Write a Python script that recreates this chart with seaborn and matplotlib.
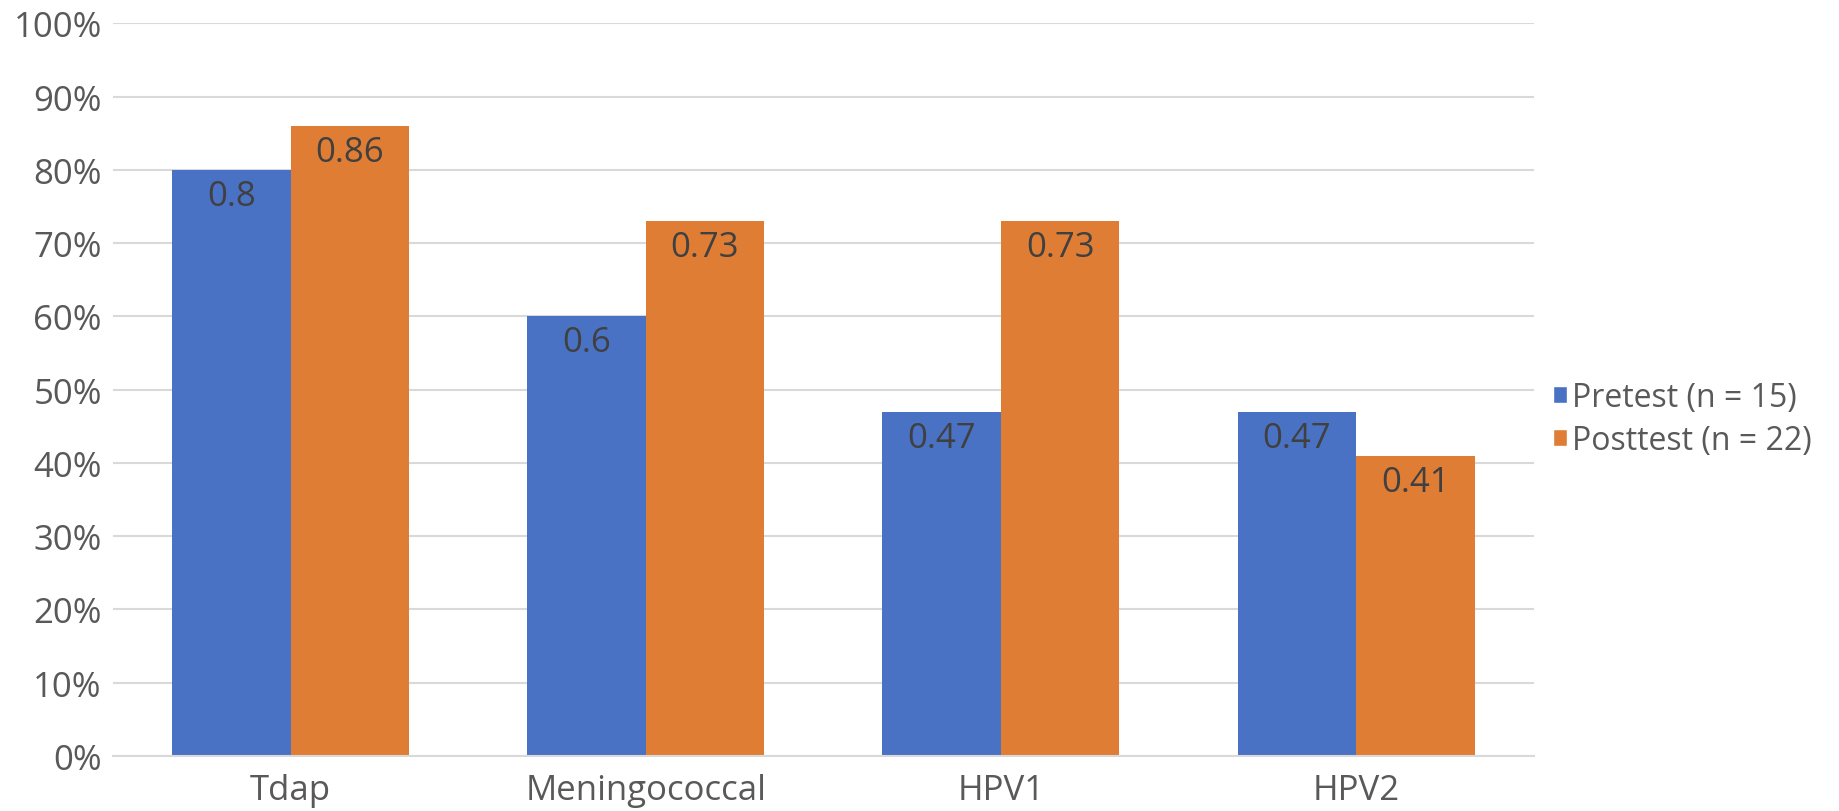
import pandas as pd
import matplotlib.pyplot as plt
import seaborn as sns
from matplotlib.ticker import PercentFormatter
from matplotlib.patches import Patch

# Data
vaccines = ["Tdap", "Meningococcal", "HPV1", "HPV2"]
pretest = [0.80, 0.60, 0.47, 0.47]
posttest = [0.86, 0.73, 0.73, 0.41]
groups = ["Pretest (n = 15)", "Posttest (n = 22)"]
colors = ["#4a72c4", "#e07d35"]

df = pd.DataFrame({
    "vaccine": vaccines * 2,
    "score": pretest + posttest,
    "group": [groups[0]] * len(vaccines) + [groups[1]] * len(vaccines),
})

sns.set_style("white")
plt.rcParams["font.family"] = ["Open Sans", "DejaVu Sans"]

fig = plt.figure(figsize=(18.39, 8.12), dpi=100)
ax = fig.add_axes([0.0614, 0.0677, 0.7726, 0.9023])

sns.barplot(data=df, x="vaccine", y="score", hue="group", order=vaccines,
            hue_order=groups, palette=colors, width=0.667, gap=0,
            saturation=1, linewidth=0, ax=ax, legend=False)

# data labels inside the top of each bar
for cont in ax.containers:
    ax.bar_label(cont, labels=[f"{b.get_height():g}" for b in cont],
                 label_type="edge", padding=-31, fontsize=25, color="#404040")

ax.set_ylim(0, 1.0)
ax.set_xlim(-0.5, 3.5)
ax.set_yticks([i / 10 for i in range(11)])
ax.yaxis.set_major_formatter(PercentFormatter(1.0, decimals=0))
ax.grid(axis="y", color="#d9d9d9", linewidth=1.5)
ax.set_axisbelow(True)
for s in ["top", "right", "left"]:
    ax.spines[s].set_visible(False)
ax.spines["bottom"].set_color("#d9d9d9")
ax.spines["bottom"].set_linewidth(1.5)
ax.tick_params(axis="y", length=0, pad=8, labelsize=25, labelcolor="#595959")
ax.tick_params(axis="x", length=0, pad=12, labelsize=25, labelcolor="#595959")
ax.set_xlabel("")
ax.set_ylabel("")

handles = [Patch(facecolor=c, label=g) for c, g in zip(colors, groups)]
leg = ax.legend(handles=handles, loc="center left", bbox_to_anchor=(1.0, 0.46),
                frameon=False, fontsize=23, handlelength=0.45, handleheight=0.45,
                handletextpad=0.15, labelspacing=0.3, borderaxespad=0.2)
for t in leg.get_texts():
    t.set_color("#595959")

fig.savefig("out.png", dpi=100)
